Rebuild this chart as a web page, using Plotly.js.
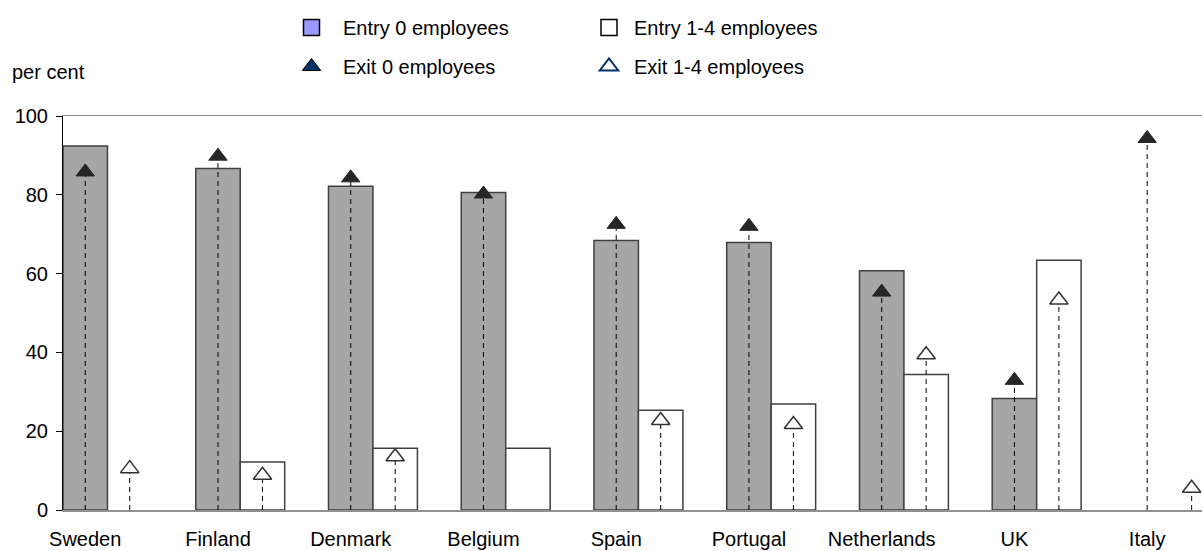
<!DOCTYPE html>
<html>
<head>
<meta charset="utf-8">
<script src="https://cdn.plot.ly/plotly-3.0.1.min.js"></script>
<style>html,body{margin:0;padding:0;background:#fff;}#chart{width:1202px;height:551px;}</style>
</head>
<body>
<div id="chart"></div>
<script>
var categories = ["Sweden", "Finland", "Denmark", "Belgium", "Spain", "Portugal", "Netherlands", "UK", "Italy"];
var entry0 = [92.4, 86.7, 82.2, 80.6, 68.4, 67.9, 60.7, 28.3, null];
var entry14 = [null, 12.2, 15.7, 15.7, 25.3, 26.9, 34.4, 63.4, null];
var exit0 = [85.8, 89.8, 84.3, 80.2, 72.5, 72.0, 55.3, 32.9, 94.3];
var exit14 = [10.5, 8.8, 13.5, null, 22.7, 21.7, 39.4, 53.3, 5.5];
var yTicks = [0, 20, 40, 60, 80, 100];

var BW = 0.335;
var idx = categories.map(function (c, i) { return i; });
var idx2 = idx.map(function (i) { return i + BW; });

function stems(xs, vals) {
  var x = [], y = [];
  vals.forEach(function (v, i) {
    if (v === null) return;
    x.push(xs[i], xs[i], null);
    y.push(0, v, null);
  });
  return {x: x, y: y};
}
var s0 = stems(idx, exit0);
var s1 = stems(idx2, exit14);

var FONT = "Liberation Sans, Arial, sans-serif";
var FS = 20;

var traces = [
  {type: "bar", x: idx, y: entry0, width: BW, name: "Entry 0 employees", showlegend: false,
   marker: {color: "#A6A6A6", line: {color: "#404040", width: 1.5}}, hoverinfo: "y"},
  {type: "bar", x: idx2, y: entry14, width: BW, name: "Entry 1-4 employees", showlegend: false,
   marker: {color: "#FFFFFF", line: {color: "#404040", width: 1.5}}, hoverinfo: "y"},
  {type: "scatter", mode: "lines", x: s0.x, y: s0.y, showlegend: false, hoverinfo: "skip",
   line: {color: "#000000", width: 1, dash: "5px,4px"}},
  {type: "scatter", mode: "lines", x: s1.x, y: s1.y, showlegend: false, hoverinfo: "skip",
   line: {color: "#000000", width: 1, dash: "5px,4px"}},
  {type: "scatter", mode: "markers", x: idx, y: exit0, name: "Exit 0 employees", showlegend: false,
   marker: {symbol: "triangle-up", size: 16, color: "#262626", line: {color: "#262626", width: 1}}},
  {type: "scatter", mode: "markers", x: idx2, y: exit14, name: "Exit 1-4 employees", showlegend: false,
   marker: {symbol: "triangle-up", size: 16, color: "#FFFFFF", line: {color: "#333333", width: 1.5}}},
  // legend entries
  {type: "scatter", mode: "markers", x: [null], y: [null], name: "Entry 0 employees", legend: "legend", legendgroup: "a",
   marker: {symbol: "square", size: 16, color: "#9999FF", line: {color: "#000000", width: 1.5}}},
  {type: "scatter", mode: "markers", x: [null], y: [null], name: "Exit 0 employees", legend: "legend", legendgroup: "b",
   marker: {symbol: "triangle-up", size: 16, color: "#003366", line: {color: "#000000", width: 1}}},
  {type: "scatter", mode: "markers", x: [null], y: [null], name: "Entry 1-4 employees", legend: "legend2", legendgroup: "c",
   marker: {symbol: "square", size: 16, color: "#FFFFFF", line: {color: "#000000", width: 1.5}}},
  {type: "scatter", mode: "markers", x: [null], y: [null], name: "Exit 1-4 employees", legend: "legend2", legendgroup: "d",
   marker: {symbol: "triangle-up", size: 16, color: "#FFFFFF", line: {color: "#003366", width: 2}}}
];

var legendCommon = {
  orientation: "v", xanchor: "left", yanchor: "top", yref: "paper", xref: "paper",
  bgcolor: "rgba(0,0,0,0)", borderwidth: 0, tracegroupgap: 10,
  font: {family: FONT, size: FS, color: "#000"}
};

var layout = {
  width: 1202, height: 551,
  margin: {l: 63, r: 0, t: 116, b: 41, pad: 0},
  paper_bgcolor: "#FFFFFF", plot_bgcolor: "#FFFFFF",
  font: {family: FONT, size: FS, color: "#000"},
  barmode: "overlay",
  bargap: 0,
  xaxis: {
    range: [-BW / 2, 8.413], tickmode: "array", tickvals: idx, ticktext: categories,
    showgrid: false, zeroline: false, showline: true, linecolor: "#909090", linewidth: 1.5, mirror: true,
    ticks: "", ticklabelstandoff: 10, tickfont: {family: FONT, size: FS}, fixedrange: true
  },
  yaxis: {
    range: [0, 100], tickmode: "array", tickvals: yTicks, ticktext: yTicks.map(String),
    showgrid: false, zeroline: false, showline: true, linecolor: "#000000", linewidth: 1,
    ticks: "outside", ticklen: 6, tickcolor: "#000", tickwidth: 1, ticklabelstandoff: 4,
    tickfont: {family: FONT, size: FS}, fixedrange: true
  },
  legend: Object.assign({}, legendCommon, {itemwidth: 53, x: (280 - 63) / 1139, y: 1 + (116 - 8) / 394}),
  legend2: Object.assign({}, legendCommon, {itemwidth: 40, x: (584 - 63) / 1139, y: 1 + (116 - 8) / 394}),
  annotations: [{
    text: "per cent", xref: "paper", yref: "paper", x: (10 - 63) / 1139, y: 1 + (116 - 72) / 394,
    xanchor: "left", yanchor: "middle", showarrow: false, font: {family: FONT, size: FS, color: "#000"}
  }],
  showlegend: true
};

Plotly.newPlot("chart", traces, layout, {displayModeBar: false, staticPlot: true});
</script>
</body>
</html>
